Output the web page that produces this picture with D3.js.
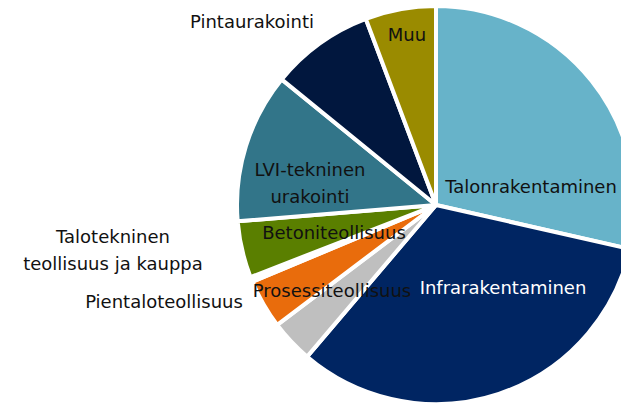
<!DOCTYPE html>
<html>
<head>
<meta charset="utf-8">
<script src="https://cdn.jsdelivr.net/npm/d3@7"></script>
<style>
  body { margin: 0; background: #fff; }
  svg { display: block; }
  .label { font-family: "DejaVu Sans", sans-serif; font-size: 18px; }
</style>
</head>
<body>
<div id="chart"></div>
<script>
// data (share %, clockwise from 12 o'clock)
const categories = [
  "Talonrakentaminen",
  "Infrarakentaminen",
  "Prosessiteollisuus",
  "Pientaloteollisuus",
  "Talotekninen teollisuus ja kauppa",
  "Betoniteollisuus",
  "LVI-tekninen urakointi",
  "Pintaurakointi",
  "Muu"
];
const shares = [28.6, 32.7, 3.5, 4.0, 0.4, 4.6, 12.2, 8.4, 5.75];
const colors = ["#67b3c9", "#002562", "#bfbfbf", "#e96c0c", "#ffffff", "#5a7f00", "#327589", "#01173e", "#9a8b00"];

// label lines and placement relative to pie centre
const labelLines = [
  ["Talonrakentaminen"],
  ["Infrarakentaminen"],
  ["Prosessiteollisuus"],
  ["Pientaloteollisuus"],
  ["Talotekninen", "teollisuus ja kauppa"],
  ["Betoniteollisuus"],
  ["LVI-tekninen", "urakointi"],
  ["Pintaurakointi"],
  ["Muu"]
];
const labelPos = [[95, -18], [67, 83], [-104, 86], [-272, 97], [-323, 45], [-102, 28], [-126, -22], [-184, -183], [-29, -170]];
const labelColor = ["#111", "#fff", "#111", "#111", "#111", "#111", "#111", "#111", "#111"];

const width = 621, height = 405;
const cx = 436, cy = 205, radius = 199;

const svg = d3.select("#chart")
  .append("svg")
  .attr("width", width)
  .attr("height", height);

const g = svg.append("g").attr("transform", `translate(${cx},${cy})`);

const pie = d3.pie().sort(null).value((d) => d);
const arc = d3.arc().innerRadius(0).outerRadius(radius);

const arcs = pie(shares);

g.selectAll("path")
  .data(arcs)
  .enter()
  .append("path")
  .attr("d", arc)
  .attr("fill", (d, i) => colors[i])
  .attr("stroke", "#fff")
  .attr("stroke-width", 4)
  .attr("stroke-linejoin", "round");

const labels = g.selectAll(".label")
  .data(labelLines)
  .enter()
  .append("text")
  .attr("class", "label")
  .attr("text-anchor", "middle")
  .attr("fill", (d, i) => labelColor[i])
  .attr("transform", (d, i) => `translate(${labelPos[i][0]},${labelPos[i][1]})`);

labels.selectAll("tspan")
  .data((d) => d.map((t, j) => ({ t, j, n: d.length })))
  .enter()
  .append("tspan")
  .attr("x", 0)
  .attr("y", (d) => (d.j - (d.n - 1) / 2) * 27)
  .attr("dy", "0.35em")
  .text((d) => d.t);
</script>
</body>
</html>
